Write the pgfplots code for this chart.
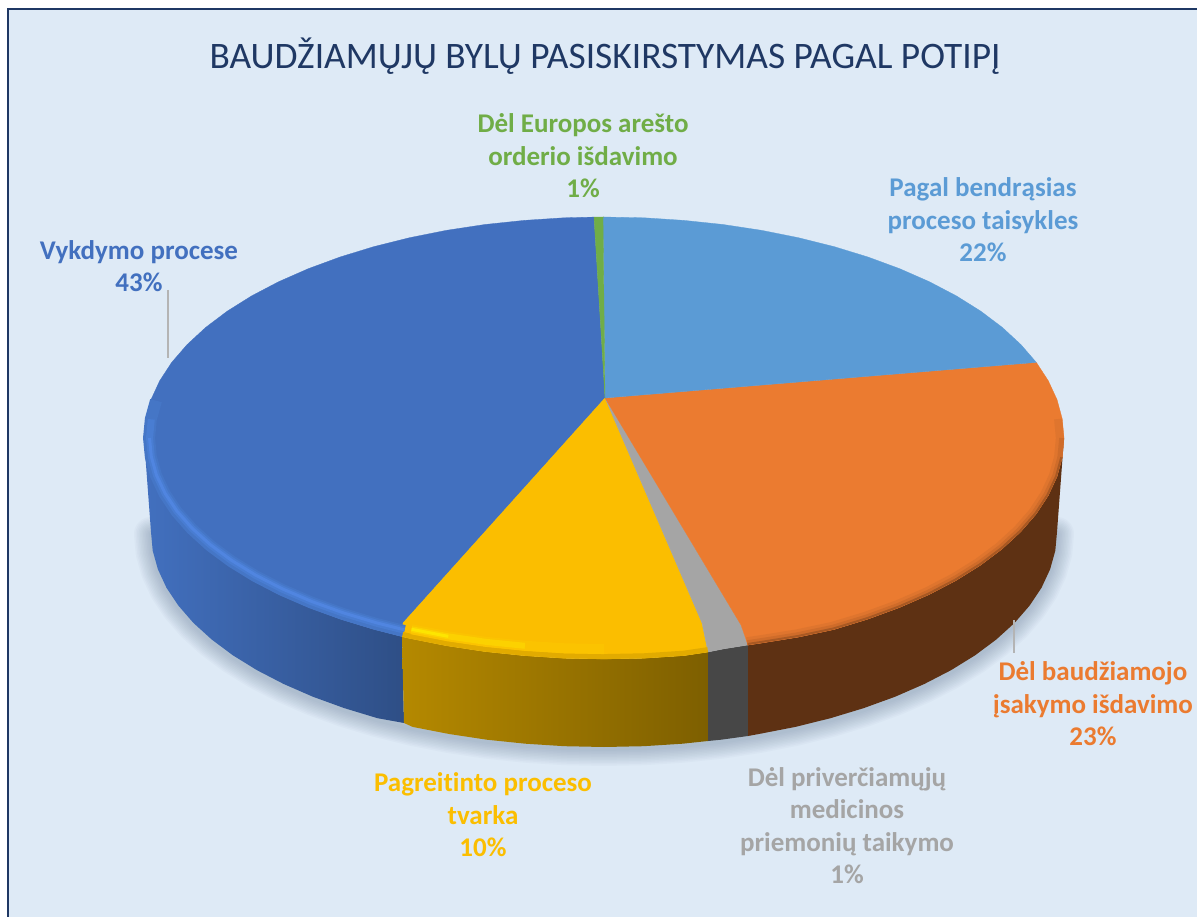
\documentclass[border=0pt]{standalone}
\usepackage{fontspec}
\setmainfont[Ligatures=NoCommon]{Carlito}
\usepackage{pgfplots}
\usepackage{pgfplotstable}
\pgfplotsset{compat=1.18}
\definecolor{pback}{HTML}{DEEAF6}
\definecolor{pframe}{HTML}{1F3864}
\definecolor{pblue}{HTML}{4270BF}
\definecolor{psky}{HTML}{5B9BD5}
\definecolor{porange}{HTML}{EB7B30}
\definecolor{pgray}{HTML}{A5A5A5}
\definecolor{pyellow}{HTML}{FBBE00}
\definecolor{pgreen}{HTML}{70AD47}
\definecolor{pbrown}{HTML}{5E3113}
\definecolor{pleader}{HTML}{B4B4B4}
\definecolor{pshadow}{HTML}{5A6F8C}
\definecolor{pbevelA}{HTML}{4576C6}
\definecolor{pbevelB}{HTML}{497DD2}
\definecolor{pbevelC}{HTML}{5085E0}

% top face: first row of each wedge is the apex
\pgfplotstableread{
x y
605 398
594 217.1
604 217
603 217
}\wedgeGreen
\pgfplotstableread{
x y
605 398
603 217
644.1 217.8
683.9 220.4
723 224.5
761.3 230.3
798.4 237.7
834 246.6
867.9 257
899.7 268.7
929.3 281.7
956.4 295.9
980.8 311.2
1002.4 327.5
1020.9 344.6
1036.3 362.4
}\wedgeSky
\pgfplotstableread{
x y
605 398
1036.3 362.4
1048.3 380.8
1057 399.6
1062.2 418.7
1064 438
1062.2 457.3
1057 476.4
1048.3 495.2
1036.3 513.6
1020.9 531.4
1002.4 548.5
980.8 564.8
956.4 580.1
929.3 594.3
899.7 607.3
867.9 619
834 629.4
798.4 637
761.3 643
748 645
741 625
}\wedgeOrange
\pgfplotstableread{
x y
605 398
741 625
748 645
723 649
708 652
702 623
}\wedgeGray
\pgfplotstableread{
x y
605 398
702 623
708 652
683.9 655.6
644.1 658.2
604 659
563.9 658.2
524.1 655.6
485 651.5
446.7 645.7
409.6 638.3
402 636.6
403 623
}\wedgeYellow
\pgfplotstableread{
x y
605 398
403 623
402 636.6
374 629.4
340.1 619
308.3 607.3
278.7 594.3
251.6 580.1
227.2 564.8
205.6 548.5
187.1 531.4
171.7 513.6
159.7 495.2
151 476.4
145.8 457.3
144 438
145.8 418.7
151 399.6
159.7 380.8
171.7 362.4
187.1 344.6
205.6 327.5
227.2 311.2
251.6 295.9
278.7 281.7
308.3 268.7
340.1 257
374 246.6
409.6 237.7
446.7 230.3
485 224.5
524.1 220.4
563.9 217.8
594 217.1
}\wedgeBlue
% rim of the disc, front part
\pgfplotstableread{
x y
1064 438
1062.2 457.3
1057 476.4
1048.3 495.2
1036.3 513.6
1020.9 531.4
1002.4 548.5
980.8 564.8
956.4 580.1
929.3 594.3
899.7 607.3
867.9 619
834 629.4
798.4 637
761.3 643
748 645
748 736
758.9 734
795.4 726.9
830.5 718.2
863.8 708.1
895.2 696.7
924.3 684
951 670.2
975.1 655.3
996.3 639.5
1014.6 622.9
1029.7 605.5
1041.6 587.6
1050.1 569.3
1055.3 550.7
1057 532
}\sideOrange
\pgfplotstableread{
x y
748 645
723 649
708 652
708 741
721.2 739.7
748 736
}\sideGray
\pgfplotstableread{
x y
708 652
683.9 655.6
644.1 658.2
604 659
563.9 658.2
524.1 655.6
485 651.5
446.7 645.7
409.6 638.3
402 636.6
404 723
412.6 726.9
449.1 734
486.8 739.7
525.4 743.7
564.5 746.2
604 747
643.5 746.2
682.6 743.7
708 741
}\sideYellow
\pgfplotstableread{
x y
402 636.6
374 629.4
340.1 619
308.3 607.3
278.7 594.3
251.6 580.1
227.2 564.8
205.6 548.5
187.1 531.4
171.7 513.6
159.7 495.2
151 476.4
145.8 457.3
144 438
151 532
152.7 550.7
157.9 569.3
166.4 587.6
178.3 605.5
193.4 622.9
211.7 639.5
232.9 655.3
257 670.2
283.7 684
312.8 696.7
344.2 708.1
377.5 718.2
404 723
}\sideBlue
% lower edge, used for the soft shadow
\pgfplotstableread{
x y
1057 532
1055.3 550.7
1050.1 569.3
1041.6 587.6
1029.7 605.5
1014.6 622.9
996.3 639.5
975.1 655.3
951 670.2
924.3 684
895.2 696.7
863.8 708.1
830.5 718.2
795.4 726.9
758.9 734
721.2 739.7
682.6 743.7
643.5 746.2
604 747
564.5 746.2
525.4 743.7
486.8 739.7
449.1 734
412.6 726.9
377.5 718.2
344.2 708.1
312.8 696.7
283.7 684
257 670.2
232.9 655.3
211.7 639.5
193.4 622.9
178.3 605.5
166.4 587.6
157.9 569.3
152.7 550.7
151 532
}\lowerEdge

% #1 style, #2 #3 inset of the disc edge, #4 first row, #5 row after the last, #6 table
\newcommand\rim[6]{\addplot[#1, skip coords between index={0}{#4}, skip coords between index={#5}{999}] table[
  x expr={604+(\thisrow{x}-604)*#2}, y expr={438+(\thisrow{y}-438)*#3}] {#6};}

\begin{document}
\begin{tikzpicture}
\begin{axis}[
  hide axis, scale only axis, width=1197pt, height=917pt,
  xmin=0, xmax=1197, ymin=0, ymax=917, y dir=reverse,
  every axis plot/.append style={no markers},
]
\addplot[fill=white, draw=none] coordinates {(0,0) (1197,0) (1197,917) (0,917)} -- cycle;
\addplot[fill=pback, draw=none] coordinates {(8,9) (1197,9) (1197,917) (8,917)} -- cycle;
\addplot[pframe, line width=2.2pt] coordinates {(8,917) (8,9) (1197,9)};

% shadow
\pgfplotsinvokeforeach{34,31,28,25,22,19,16,13,10,7,4}{
  \addplot[draw=pshadow, draw opacity=0.035, line width=#1pt, line cap=round, line join=round]
    table[x=x, y expr=\thisrow{y}+2] {\lowerEdge};
}

% side of the disc
\addplot[draw=none, left color=pblue, right color=pblue!70!black] table {\sideBlue} -- cycle;
\addplot[draw=none, left color=pyellow!72!black, right color=pyellow!50!black] table {\sideYellow} -- cycle;
\addplot[draw=none, fill=black!72] table {\sideGray} -- cycle;
\addplot[draw=none, fill=pbrown] table {\sideOrange} -- cycle;

% top face
\addplot[fill=pblue, draw=pblue, line width=.3pt] table {\wedgeBlue} -- cycle;
\addplot[fill=pyellow, draw=pyellow, line width=.3pt] table {\wedgeYellow} -- cycle;
\addplot[fill=pgray, draw=pgray, line width=.3pt] table {\wedgeGray} -- cycle;
\addplot[fill=porange, draw=porange, line width=.3pt] table {\wedgeOrange} -- cycle;
\addplot[fill=psky, draw=psky, line width=.3pt] table {\wedgeSky} -- cycle;
\addplot[fill=pgreen, draw=pgreen, line width=.3pt] table {\wedgeGreen} -- cycle;

% bevel along the front edge
\rim{color=pbevelA, line width=12pt}{0.989}{0.972}{2}{18}{\wedgeBlue}
\rim{color=pbevelB, line width=7pt}{0.988}{0.968}{2}{17}{\wedgeBlue}
\rim{color=pbevelC, line width=3pt}{0.988}{0.966}{2}{16}{\wedgeBlue}
\rim{color=pyellow!90!black, line width=5pt}{0.997}{0.989}{2}{12}{\wedgeYellow}
\rim{color=pyellow!92!yellow, line width=10pt}{0.99}{0.955}{5}{11}{\wedgeYellow}
\rim{color=pyellow!70!yellow, line width=6pt}{0.99}{0.955}{7}{11}{\wedgeYellow}
\rim{color=pyellow!40!yellow, line width=3pt}{0.99}{0.955}{9}{11}{\wedgeYellow}
\rim{color=porange!95!black, line width=8pt}{0.991}{0.982}{4}{21}{\wedgeOrange}
\rim{color=porange!88!black, line width=5pt}{0.995}{0.989}{5}{21}{\wedgeOrange}
\rim{color=porange!72!black, line width=2pt}{0.998}{0.995}{6}{21}{\wedgeOrange}

% leader lines
\addplot[pleader, line width=1.2pt] coordinates {(168,290) (168,358)};
\addplot[pleader, line width=1.2pt] coordinates {(1014,620) (1014,653)};

% labels
\node[pframe, font=\fontsize{37.4}{40}\selectfont] at (axis cs:605,56.5) {BAUDŽIAMŲJŲ BYLŲ PASISKIRSTYMAS PAGAL POTIPĮ};
\tikzset{plabel/.style={align=center, inner sep=0pt, font=\fontsize{27}{32.5}\selectfont\bfseries}}
\node[plabel, pgreen] at (axis cs:583,156) {Dėl Europos arešto\\orderio išdavimo\\1\%};
\node[plabel, psky] at (axis cs:983,220) {Pagal bendrąsias\\proceso taisykles\\22\%};
\node[plabel, pblue] at (axis cs:139,266) {Vykdymo procese\\43\%};
\node[plabel, porange] at (axis cs:1093,704) {Dėl baudžiamojo\\įsakymo išdavimo\\23\%};
\node[plabel, pgray] at (axis cs:847,825.5) {Dėl priverčiamųjų\\medicinos\\priemonių taikymo\\1\%};
\node[plabel, pyellow] at (axis cs:483,815) {Pagreitinto proceso\\tvarka\\10\%};
\end{axis}
\end{tikzpicture}
\end{document}
